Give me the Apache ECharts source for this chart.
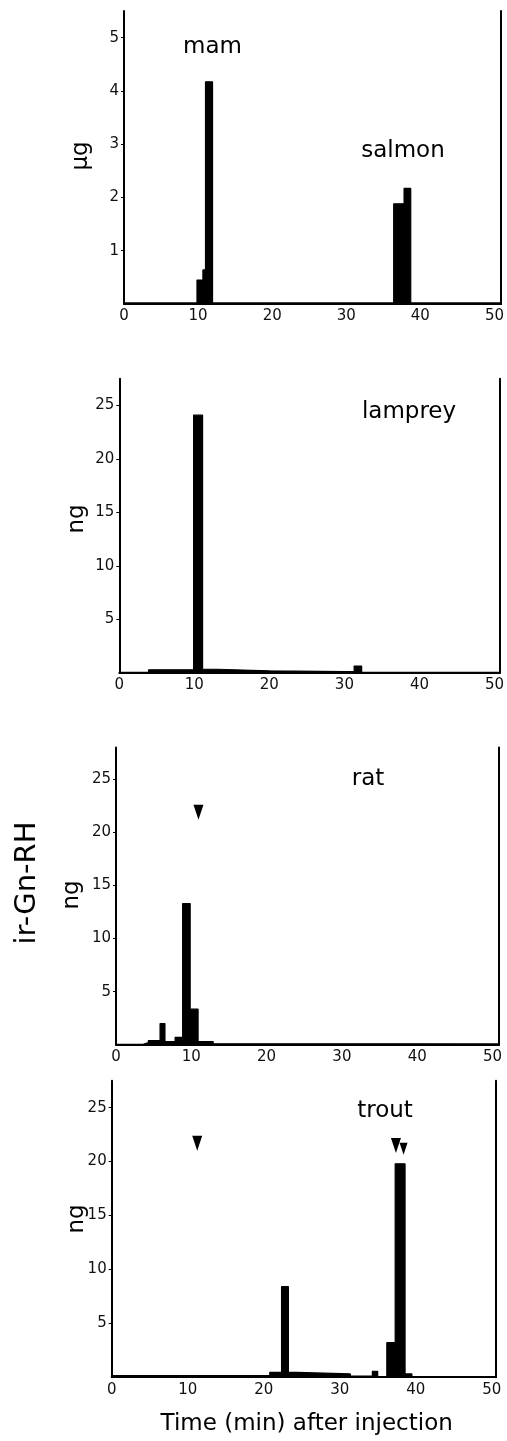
<!DOCTYPE html>
<html><head><meta charset="utf-8">
<script src="https://cdn.jsdelivr.net/npm/echarts@6.0.0/dist/echarts.min.js"></script>
<style>html,body{margin:0;padding:0;background:#fff}#c{width:507px;height:1441px}</style>
</head><body><div id="c"></div>
<script>
// ---- tick labels ----
const xTicks = [0, 10, 20, 30, 40, 50];
const ugTicks = [1, 2, 3, 4, 5];
const ngTicks = [5, 10, 15, 20, 25];

// ---- panel 1: mam + salmon (ug), step edges (min) and values ----
const mamSalmonTimes  = [0, 9.85, 10.65, 11.0, 11.95, 36.4, 37.8, 38.7, 50.9];
const mamSalmonValues = [0.02, 0.45, 0.64, 4.17, 0.02, 1.88, 2.17, 0.02, 0.02];

// ---- panel 2: lamprey (ng) ----
const lampreyTimes  = [0, 3.9, 9.9, 11.1, 13.0, 20.0, 30.0, 31.3, 32.3, 50.7];
const lampreyValues = [0.05, 0.3, 24.1, 0.35, 0.2, 0.12, 0.15, 0.65, 0.05, 0.05];

// ---- panel 3: rat (ng) ----
const ratTimes  = [0, 3.6, 4.3, 5.85, 6.5, 7.85, 8.85, 9.85, 10.9, 12.9, 50.86];
const ratValues = [0.05, 0.2, 0.4, 2.0, 0.3, 0.7, 13.3, 3.35, 0.3, 0.1, 0.1];
const ratMarkers = [[10.95, 21.9]];

// ---- panel 4: trout (ng) ----
const troutTimes  = [0, 20.8, 22.35, 23.25, 24.3, 31.4, 34.3, 35.0, 36.2, 37.3, 38.6, 39.5, 50.5];
const troutValues = [0.15, 0.45, 8.4, 0.45, 0.3, 0.1, 0.55, 0.0, 3.2, 19.8, 0.3, 0.05, 0.05];
const troutMarkers = [[11.25, 21.7], [37.4, 21.5]];
const troutSmallMarkers = [[38.4, 21.2]];

const FONT = 'DejaVu Sans';
const panels = [
  {left:124,   top:11,     width:378.7, height:293,    xMax:50.9,  yMax:5.5,  yTicks:ugTicks, t:mamSalmonTimes, v:mamSalmonValues},
  {left:119.3, top:378.75, width:381.3, height:294.25, xMax:50.7,  yMax:27.5, yTicks:ngTicks, t:lampreyTimes,   v:lampreyValues},
  {left:116,   top:747.4,  width:383,   height:297.4,  xMax:50.86, yMax:28,   yTicks:ngTicks, t:ratTimes,       v:ratValues},
  {left:111.7, top:1080.75,width:383.8, height:296.45, xMax:50.5,  yMax:27.5, yTicks:ngTicks, t:troutTimes,     v:troutValues}
];

const grid = [], xAxis = [], yAxis = [], series = [];
panels.forEach((p, i) => {
  grid.push({left:p.left, top:p.top, width:p.width, height:p.height, containLabel:false});
  xAxis.push({
    type:'value', gridIndex:i, min:0, max:p.xMax,
    axisLine:{show:true, lineStyle:{color:'#000', width:2}},
    axisTick:{show:false},
    splitLine:{show:false},
    axisLabel:{customValues:xTicks, color:'#111', fontFamily:FONT, fontSize:15, margin:5}
  });
  yAxis.push({
    type:'value', gridIndex:i, min:0, max:p.yMax,
    axisLine:{show:true, onZero:false, lineStyle:{color:'#000', width:2}},
    axisTick:{show:true, customValues:p.yTicks, length:3, lineStyle:{color:'#000', width:1}},
    splitLine:{show:false},
    axisLabel:{customValues:p.yTicks, color:'#111', fontFamily:FONT, fontSize:15, margin:5}
  });
  yAxis.push({
    type:'value', gridIndex:i, min:0, max:p.yMax, position:'right',
    axisLine:{show:true, onZero:false, lineStyle:{color:'#000', width:2}},
    axisTick:{show:false}, axisLabel:{show:false}, splitLine:{show:false}
  });
  series.push({
    type:'line', xAxisIndex:i, yAxisIndex:2*i, step:'end', symbol:'none',
    data:p.t.map((t, k) => [t, p.v[k]]),
    lineStyle:{color:'#000', width:1.2},
    areaStyle:{color:'#000', opacity:1},
    silent:true, animation:false
  });
});
const markStyle = {color:'#000', opacity:1};
series.push({type:'scatter', xAxisIndex:2, yAxisIndex:4, data:ratMarkers,
  symbol:'triangle', symbolRotate:180, symbolSize:[10,15], itemStyle:markStyle, animation:false});
series.push({type:'scatter', xAxisIndex:3, yAxisIndex:6, data:troutMarkers,
  symbol:'triangle', symbolRotate:180, symbolSize:[10,15], itemStyle:markStyle, animation:false});
series.push({type:'scatter', xAxisIndex:3, yAxisIndex:6, data:troutSmallMarkers,
  symbol:'triangle', symbolRotate:180, symbolSize:[8,12], itemStyle:markStyle, animation:false});

function txt(s, x, y, size, rot) {
  return {type:'text', x:x, y:y, rotation:rot || 0,
    style:{text:s, fill:'#000', font:size + 'px "' + FONT + '"', align:'center', verticalAlign:'middle'}};
}
const graphic = [
  txt('mam', 212.5, 47, 23),
  txt('salmon', 403, 151, 23),
  txt('lamprey', 409, 412, 23),
  txt('rat', 368, 779, 23),
  txt('trout', 385, 1111, 23),
  txt('Time (min) after injection', 306.7, 1424, 23),
  txt('μg', 81, 156, 23, Math.PI / 2),
  txt('ng', 77, 519, 23, Math.PI / 2),
  txt('ng', 72, 895, 23, Math.PI / 2),
  txt('ir-Gn-RH', 27.5, 883, 29, Math.PI / 2),
  txt('ng', 77, 1219, 23, Math.PI / 2)
];

const chart = echarts.init(document.getElementById('c'), null, {renderer:'canvas'});
chart.setOption({backgroundColor:'#fff', animation:false, grid, xAxis, yAxis, series, graphic});
</script></body></html>
